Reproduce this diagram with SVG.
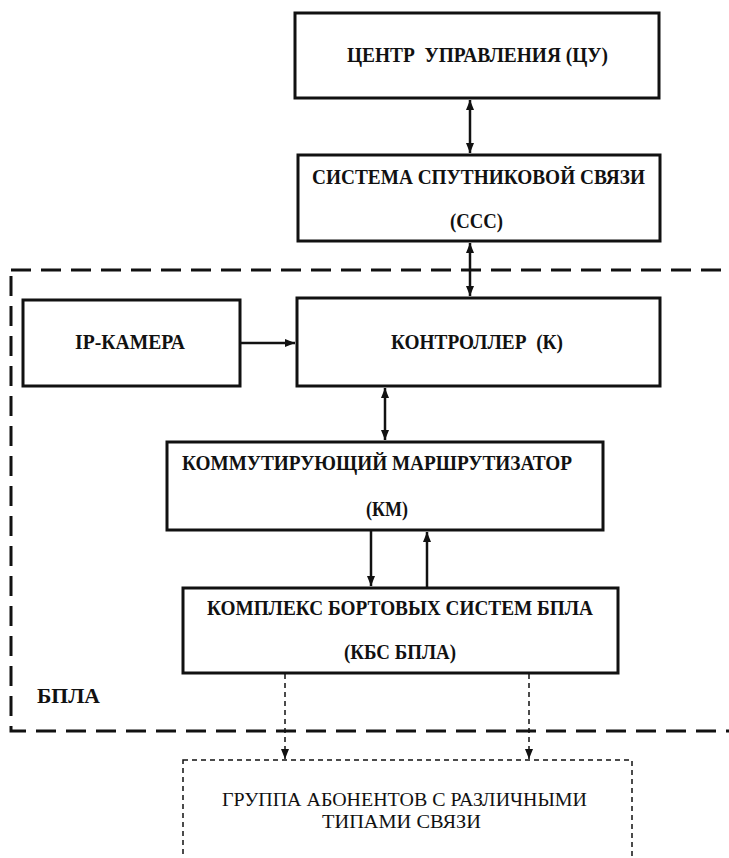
<svg xmlns="http://www.w3.org/2000/svg" width="729" height="858" viewBox="0 0 729 858">
<defs>
<style>
.box{fill:#fff;stroke:#111;stroke-width:3}
.b{font-family:"Liberation Serif","Times New Roman",serif;font-weight:bold;font-size:20px;fill:#111}
.r{font-family:"Liberation Serif","Times New Roman",serif;font-size:18px;fill:#111}
.ln{stroke:#111;stroke-width:2.5;fill:none}
.dl{stroke:#111;stroke-width:1.5;stroke-dasharray:5 4;fill:none}
</style>
<marker id="ah" viewBox="0 0 10 10" refX="10" refY="5" markerWidth="11" markerHeight="10" markerUnits="userSpaceOnUse" orient="auto-start-reverse">
<path d="M0,1 L10,5 L0,9 Z" fill="#111"/>
</marker>
<marker id="ahs" viewBox="0 0 10 10" refX="10" refY="5" markerWidth="10" markerHeight="10" markerUnits="userSpaceOnUse" orient="auto">
<path d="M0,1 L10,5 L0,9 Z" fill="#111"/>
</marker>
</defs>
<rect width="729" height="858" fill="#fff"/>

<g id="bpla">
<rect x="11" y="270" width="722" height="461" fill="none" stroke="#111" stroke-width="3" stroke-dasharray="20 10"/>
<text class="b" x="37" y="703" font-size="22" textLength="63" lengthAdjust="spacingAndGlyphs">БПЛА</text>
</g>

<g id="cu">
<rect class="box" x="295" y="13" width="364" height="85"/>
<text class="b" x="347" y="62" xml:space="preserve" textLength="261" lengthAdjust="spacingAndGlyphs">ЦЕНТР  УПРАВЛЕНИЯ (ЦУ)</text>
</g>

<g id="ccc">
<rect class="box" x="298" y="155" width="362" height="86"/>
<text class="b" x="312" y="184" textLength="333" lengthAdjust="spacingAndGlyphs">СИСТЕМА СПУТНИКОВОЙ СВЯЗИ</text>
<text class="b" x="450" y="228" textLength="53" lengthAdjust="spacingAndGlyphs">(ССС)</text>
</g>

<g id="ipcam">
<rect class="box" x="23" y="300" width="217" height="86"/>
<text class="b" x="75" y="349" textLength="110" lengthAdjust="spacingAndGlyphs">IP-КАМЕРА</text>
</g>

<g id="k">
<rect class="box" x="297" y="298" width="363" height="88"/>
<text class="b" x="391" y="349" xml:space="preserve" textLength="172" lengthAdjust="spacingAndGlyphs">КОНТРОЛЛЕР  (К)</text>
</g>

<g id="km">
<rect class="box" x="167" y="442" width="436" height="88"/>
<text class="b" x="182" y="470" textLength="390" lengthAdjust="spacingAndGlyphs">КОММУТИРУЮЩИЙ МАРШРУТИЗАТОР</text>
<text class="b" x="366" y="516" textLength="42" lengthAdjust="spacingAndGlyphs">(КМ)</text>
</g>

<g id="kbs">
<rect class="box" x="183" y="588" width="435" height="85"/>
<text class="b" x="207" y="615" textLength="386" lengthAdjust="spacingAndGlyphs">КОМПЛЕКС БОРТОВЫХ СИСТЕМ БПЛА</text>
<text class="b" x="344" y="659" textLength="112" lengthAdjust="spacingAndGlyphs">(КБС БПЛА)</text>
</g>

<g id="abonents">
<rect x="183" y="760" width="449" height="120" fill="none" stroke="#111" stroke-width="1.5" stroke-dasharray="5 4"/>
<text class="r" x="222" y="806" textLength="365" lengthAdjust="spacingAndGlyphs">ГРУППА АБОНЕНТОВ С РАЗЛИЧНЫМИ</text>
<text class="r" x="322" y="828" textLength="159" lengthAdjust="spacingAndGlyphs">ТИПАМИ СВЯЗИ</text>
</g>

<g id="connectors">
<line class="ln" x1="470" y1="100" x2="470" y2="153" marker-start="url(#ah)" marker-end="url(#ah)"/>
<line class="ln" x1="470" y1="243" x2="470" y2="296" marker-start="url(#ah)" marker-end="url(#ah)"/>
<line class="ln" x1="241" y1="343" x2="295" y2="343" marker-end="url(#ah)"/>
<line class="ln" x1="385" y1="388" x2="385" y2="440" marker-start="url(#ah)" marker-end="url(#ah)"/>
<line class="ln" x1="371" y1="531" x2="371" y2="586" marker-end="url(#ah)"/>
<line class="ln" x1="427" y1="587" x2="427" y2="532" marker-end="url(#ah)"/>
<line class="dl" x1="285" y1="674" x2="285" y2="759" marker-end="url(#ahs)"/>
<line class="dl" x1="529" y1="674" x2="529" y2="759" marker-end="url(#ahs)"/>
</g>
</svg>
